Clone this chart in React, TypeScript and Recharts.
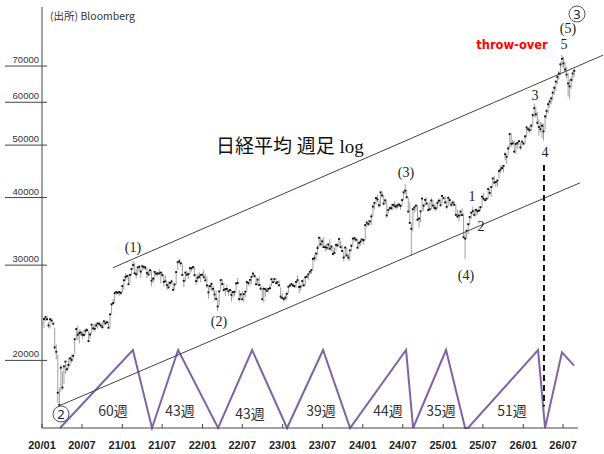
import React from "react";
import { ComposedChart, Bar, Line, XAxis, YAxis, ReferenceLine } from "recharts";

// Nikkei 225 weekly bars: [low, high, close] in thousand yen, one row per Friday
const w2020 = [
	[22.95, 23.9, 23.85], [23.65, 24.1, 24.04], [23.7, 24.2, 23.83], [22.97, 23.55, 23.21],
	[22.9, 23.9, 23.83], [23.6, 23.95, 23.69], [23.2, 23.5, 23.39], [20.9, 23.0, 21.14],
	[20.1, 21.4, 20.75], [16.69, 20.5, 17.43], [16.36, 17.8, 16.55], [17.5, 19.6, 19.39],
	[17.65, 19.1, 17.82], [18.1, 19.6, 19.5], [18.9, 19.95, 19.9], [19.1, 19.7, 19.26],
	[19.3, 20.2, 19.62], [19.5, 20.3, 20.18], [19.8, 20.5, 20.04], [20.1, 20.6, 20.39], [20.6, 22.0, 21.88],
	[21.9, 23.0, 22.86], [21.8, 23.2, 22.31], [21.5, 22.8, 22.48], [22.2, 22.8, 22.51],
	[21.9, 22.6, 22.31], [22.1, 22.75, 22.29], [22.3, 22.9, 22.7], [22.6, 22.95, 22.75], [21.6, 22.7, 21.71],
	[21.9, 22.6, 22.33], [22.4, 23.35, 23.29], [22.8, 23.3, 22.92], [22.6, 23.4, 22.88],
	[23.0, 23.5, 23.21], [22.9, 23.5, 23.41], [23.2, 23.6, 23.36], [23.0, 23.45, 23.2],
	[22.9, 23.5, 23.03], [23.1, 23.7, 23.62], [23.3, 23.7, 23.41], [23.3, 23.7, 23.52], [22.95, 23.6, 22.98],
	[23.0, 24.35, 24.33], [24.3, 25.5, 25.39], [25.3, 26.0, 25.53], [25.5, 26.7, 26.64],
	[26.4, 26.9, 26.75], [26.5, 26.9, 26.65], [26.3, 26.9, 26.76], [26.4, 26.9, 26.66],
];
const w2021 = [
	[26.7, 27.6, 27.44], [27.0, 28.2, 28.14], [28.0, 28.98, 28.52], [28.2, 28.85, 28.63], [27.6, 28.8, 27.66],
	[27.8, 28.8, 28.78], [28.7, 29.6, 29.52], [29.5, 30.47, 30.02], [28.9, 30.3, 28.97],
	[28.3, 29.5, 28.86], [28.7, 29.75, 29.72], [29.2, 30.0, 29.79], [28.4, 29.6, 29.18],
	[29.3, 30.1, 29.85], [29.4, 30.0, 29.77], [29.4, 29.9, 29.68], [28.4, 29.7, 29.02], [28.7, 29.3, 28.81],
	[28.8, 29.45, 29.36], [27.4, 29.4, 28.08], [27.8, 28.5, 28.32], [28.1, 29.2, 29.15],
	[28.6, 29.1, 28.94], [28.6, 29.1, 28.95], [28.8, 29.5, 28.96], [27.8, 29.1, 29.07],
	[28.5, 29.1, 28.78], [27.4, 28.8, 27.94], [27.9, 28.7, 28.0], [27.0, 27.9, 27.55], [27.2, 28.0, 27.28],
	[27.3, 27.95, 27.82], [27.7, 28.2, 27.98], [26.95, 27.8, 27.01], [27.0, 27.7, 27.64],
	[27.6, 29.2, 29.13], [29.4, 30.4, 30.38], [30.1, 30.8, 30.5], [29.8, 30.3, 30.25],
	[28.7, 30.2, 28.77], [27.3, 28.5, 28.05], [28.0, 29.1, 29.07], [28.6, 29.3, 28.8], [28.3, 29.0, 28.89],
	[28.9, 29.8, 29.61], [29.2, 29.7, 29.61], [29.4, 29.9, 29.75], [28.6, 29.8, 28.75],
	[27.6, 28.6, 28.03], [27.9, 28.9, 28.44], [28.3, 29.1, 28.55], [27.9, 28.8, 28.78], [28.6, 29.1, 28.79],
];
const w2022 = [
	[28.4, 29.4, 28.48], [28.0, 28.9, 28.12], [27.2, 28.6, 27.52], [26.0, 27.6, 26.72],
	[26.9, 27.6, 27.44], [26.9, 27.9, 27.7], [26.7, 27.5, 27.12], [25.8, 27.0, 26.48],
	[25.8, 26.9, 25.99], [24.68, 26.0, 25.16], [25.3, 26.9, 26.83], [26.9, 28.3, 28.15],
	[27.6, 28.3, 27.67], [26.8, 27.8, 26.99], [26.3, 27.2, 27.09], [26.8, 27.6, 27.11], [26.3, 26.95, 26.85],
	[26.6, 27.1, 27.0], [25.7, 27.0, 26.43], [26.1, 26.9, 26.74], [26.3, 26.9, 26.78],
	[26.9, 27.8, 27.76], [27.6, 28.4, 27.82], [25.7, 27.0, 25.96], [25.8, 26.6, 26.49],
	[25.9, 26.9, 25.94], [25.6, 26.6, 26.52], [26.2, 26.9, 26.79], [26.8, 28.0, 27.91], [27.5, 28.0, 27.8],
	[27.5, 28.2, 28.18], [27.7, 28.6, 28.55], [28.6, 29.2, 28.93], [28.4, 28.8, 28.64],
	[27.6, 28.5, 27.65], [27.5, 28.3, 28.21], [27.5, 28.6, 27.57], [26.9, 27.7, 27.15], [25.9, 27.2, 25.94],
	[25.6, 27.4, 27.12], [26.2, 27.1, 27.09], [26.8, 27.3, 26.89], [26.7, 27.2, 27.11],
	[27.0, 27.7, 27.2], [27.4, 28.3, 28.26], [27.8, 28.3, 27.9], [27.9, 28.4, 28.28],
	[27.7, 28.4, 27.78], [27.5, 28.0, 27.9], [27.4, 28.1, 27.53], [26.0, 27.3, 26.24], [25.95, 26.6, 26.09],
];
const w2023 = [
	[25.66, 26.1, 25.97], [25.8, 26.5, 26.12], [25.9, 26.8, 26.55], [26.6, 27.4, 27.38],
	[27.2, 27.6, 27.51], [27.4, 27.8, 27.67], [27.3, 27.8, 27.51], [27.2, 27.6, 27.45],
	[27.2, 28.0, 27.93], [27.9, 28.7, 28.14], [26.6, 28.0, 27.33], [26.9, 27.5, 27.39], [27.4, 28.1, 28.04],
	[27.4, 28.3, 27.52], [27.5, 28.5, 28.49], [28.4, 28.8, 28.56], [28.2, 28.9, 28.86],
	[28.9, 29.3, 29.16], [28.9, 29.4, 29.39], [29.4, 30.9, 30.81], [30.5, 31.35, 30.92],
	[30.6, 31.6, 31.52], [31.3, 32.7, 32.27], [32.4, 33.8, 33.71], [32.6, 33.77, 32.78], [32.3, 33.5, 33.19],
	[32.3, 33.8, 32.39], [31.8, 32.8, 32.39], [31.9, 32.9, 32.3], [32.0, 32.9, 32.76],
	[31.9, 33.5, 32.19], [31.8, 32.6, 32.47], [31.3, 32.5, 31.45], [31.5, 32.3, 31.62],
	[31.9, 32.8, 32.71], [32.4, 33.0, 32.61], [32.6, 33.6, 33.53], [32.2, 33.3, 32.4], [31.8, 32.7, 31.86],
	[30.5, 31.8, 30.99], [31.0, 32.5, 32.32], [31.2, 32.3, 31.26], [30.6, 31.5, 30.99],
	[30.6, 32.0, 31.95], [31.8, 32.8, 32.57], [32.6, 33.7, 33.59], [33.3, 33.9, 33.63],
	[33.1, 33.8, 33.43], [32.2, 33.5, 32.31], [32.4, 33.2, 32.97], [32.6, 33.6, 33.17], [33.1, 33.6, 33.46],
];
const w2024 = [
	[32.7, 33.5, 33.38], [33.4, 35.7, 35.58], [35.3, 36.0, 35.96], [35.4, 36.4, 35.75],
	[35.5, 36.3, 36.16], [35.6, 37.3, 36.9], [36.9, 38.9, 38.49], [38.0, 39.2, 39.1],
	[38.8, 40.0, 39.91], [39.2, 40.5, 39.69], [38.3, 39.5, 38.71], [38.5, 41.09, 40.89], [40.0, 41.1, 40.37],
	[38.7, 40.4, 38.99], [38.8, 39.8, 39.52], [36.73, 39.4, 37.07], [37.3, 38.1, 37.93],
	[37.8, 38.6, 38.24], [37.9, 38.9, 38.23], [37.9, 38.9, 38.79], [38.3, 39.4, 38.65], [38.0, 38.9, 38.49],
	[38.2, 39.0, 38.68], [38.4, 39.1, 38.81], [38.0, 38.9, 38.6], [38.6, 39.6, 39.58],
	[39.6, 40.9, 40.91], [40.5, 42.43, 41.19], [39.8, 41.4, 40.06], [37.6, 40.0, 37.67],
	[35.8, 39.2, 35.91], [31.16, 35.9, 35.03], [34.6, 38.2, 38.06], [37.5, 38.4, 38.36], [37.8, 38.7, 38.65],
	[36.3, 38.7, 36.39], [35.25, 36.8, 36.58], [36.0, 37.8, 37.72], [37.7, 39.8, 39.83],
	[37.8, 39.0, 38.64], [38.6, 39.8, 39.61], [38.9, 40.0, 38.98], [37.7, 39.0, 37.91],
	[37.9, 39.3, 38.05], [38.0, 39.9, 39.5], [38.5, 39.6, 38.64], [37.9, 39.0, 38.28], [37.8, 38.8, 38.21],
	[38.2, 39.5, 39.09], [39.0, 39.85, 39.47], [38.6, 39.7, 38.7], [38.8, 40.4, 40.28],
];
const w2025 = [
	[39.8, 40.1, 39.89], [38.9, 40.3, 39.19], [38.1, 39.5, 38.45], [38.5, 40.3, 39.93], [38.9, 40.0, 39.57],
	[38.4, 39.3, 38.79], [38.6, 39.5, 39.15], [38.6, 39.3, 38.78], [37.0, 38.8, 37.16],
	[36.6, 38.0, 36.89], [36.2, 37.4, 37.05], [36.9, 37.9, 37.68], [37.0, 38.2, 37.12],
	[33.7, 37.4, 33.78], [30.79, 34.6, 33.59], [33.5, 34.9, 34.73], [34.2, 35.9, 35.71],
	[35.5, 36.9, 36.83], [36.5, 37.6, 37.5], [37.2, 38.5, 37.75], [36.9, 38.0, 37.16], [36.9, 38.1, 37.97],
	[37.2, 38.0, 37.74], [37.6, 38.5, 37.83], [37.8, 38.6, 38.4], [38.3, 40.2, 40.15],
	[39.6, 40.8, 39.81], [39.3, 39.9, 39.57], [39.4, 40.0, 39.82], [39.8, 41.8, 41.46],
	[40.5, 41.5, 40.8], [40.1, 41.9, 41.82], [41.8, 43.5, 43.38], [42.5, 43.9, 42.63], [41.8, 42.9, 42.72],
	[41.9, 43.1, 43.02], [43.3, 44.8, 44.77], [44.4, 45.8, 45.05], [44.9, 45.9, 45.35],
	[44.5, 45.9, 45.77], [46.9, 48.6, 48.09], [46.2, 48.1, 47.58], [47.9, 49.9, 49.3], [49.2, 52.4, 52.41],
	[49.6, 52.6, 50.28], [49.9, 51.2, 50.38], [48.3, 51.0, 48.63], [48.1, 50.3, 50.25],
	[49.2, 50.6, 50.49], [49.9, 51.1, 50.84], [49.0, 50.5, 49.51], [49.7, 50.8, 50.75],
];
const w2026 = [
	[50.0, 50.6, 50.34], [50.2, 52.2, 51.9], [51.6, 54.2, 53.9], [52.8, 54.0, 53.5], [52.6, 54.1, 53.3],
	[53.0, 54.8, 54.3], [54.2, 57.3, 56.8], [56.3, 59.7, 58.5], [56.2, 59.0, 57.0],
	[54.5, 57.6, 55.0], [52.0, 55.8, 54.0], [52.8, 55.2, 53.5], [51.5, 55.0, 54.3],
	[51.0, 54.8, 53.0], [53.2, 56.8, 56.5], [56.0, 58.3, 57.8], [57.2, 60.0, 59.5],
	[58.6, 60.8, 60.2], [59.5, 61.5, 61.0], [60.4, 63.0, 62.5], [61.9, 64.3, 63.8], [63.0, 66.0, 65.5],
	[64.8, 67.3, 66.8], [66.0, 68.5, 67.8], [67.3, 71.2, 70.5], [69.6, 73.4, 72.2],
	[69.5, 72.8, 70.8], [68.1, 71.3, 69.0], [66.5, 69.8, 67.5], [61.5, 68.0, 65.0], [60.8, 66.0, 64.2],
	[63.5, 67.0, 66.0], [65.5, 68.5, 67.8], [66.8, 69.3, 68.6],
];
const yearBlocks = [w2020, w2021, w2022, w2023, w2024, w2025, w2026];
const firstFriday = ["2020-01-10", "2021-01-01", "2022-01-07", "2023-01-06", "2024-01-05", "2025-01-03", "2026-01-02"];

// x axis is days since 2020-01-01
const tickDates = ["2020-01-01", "2020-07-01", "2021-01-01", "2021-07-01", "2022-01-01", "2022-07-01", "2023-01-01",
	"2023-07-01", "2024-01-01", "2024-07-01", "2025-01-01", "2025-07-01", "2026-01-01", "2026-07-01"];
const tickLabels = ["20/01", "20/07", "21/01", "21/07", "22/01", "22/07", "23/01", "23/07", "24/01", "24/07", "25/01", "25/07", "26/01", "26/07"];
const yTicks = [20000, 30000, 40000, 50000, 60000, 70000];

// cycle zigzag (purple), 1 = peak, 0 = trough
const cycleDays = [82, 414, 501, 620, 802, 957, 1116, 1280, 1403, 1658, 1690, 1840, 1927, 1940, 2259, 2291, 2368, 2423];
const cycleLevel = [0, 1, 0, 1, 0, 1, 0, 1, 0, 1, 0, 1, 0, 0, 1, 0, 0.97, 0.8];
const cycleWeeks = ["60週", "43週", "43週", "39週", "44週", "35週", "51週"];
const cycleLabelX = [113, 180, 250, 321, 388, 441, 512];

// channel lines and wave-4 marker: [day, price]
const upperChannel = [[323, 29670], [2555, 73320]];
const lowerChannel = [[82, 16510], [2450, 42580]];
const wave4Marker = [[2286, 45950], [2286, 16440]];

const DAY = 86400000;
const origin = Date.parse("2020-01-01");
const toDay = (s: string) => Math.round((Date.parse(s) - origin) / DAY);
const tickDays = tickDates.map(toDay);

const bars = yearBlocks.flatMap((rows, i) => {
	const d0 = toDay(firstFriday[i]);
	return rows.map(([lo, hi, cl], k) => ({
		d: d0 + 7 * k,
		range: [lo * 1000, hi * 1000],
		lo: lo * 1000,
		hi: hi * 1000,
		close: cl * 1000,
	}));
});

const cycleData = cycleDays.map((d, i) => ({ d, c: cycleLevel[i] }));

const OhlcShape = (props: any) => {
	const { x, y, width, height, payload } = props;
	if (x == null || y == null || isNaN(y) || isNaN(height)) return null;
	const cx = x + width / 2;
	const top = Math.min(y, y + height);
	const h = Math.abs(height);
	const t = (Math.log(payload.hi) - Math.log(payload.close)) / (Math.log(payload.hi) - Math.log(payload.lo));
	const cy = top + h * t;
	return (
		<g>
			<line x1={cx} x2={cx} y1={top} y2={top + h} stroke="#a0a0a0" strokeWidth={1} />
			<rect x={cx - 1} y={cy - 0.9} width={2} height={1.8} fill="#111" />
		</g>
	);
};

const XTick = (props: any) => {
	const { x, payload } = props;
	const i = tickDays.indexOf(payload.value);
	return (
		<g>
			<line x1={x} x2={x} y1={424} y2={428} stroke="#444" />
			<text x={x} y={449} textAnchor="middle" fontSize={11} fontWeight="bold" fontFamily="'Liberation Sans', Arial, sans-serif" fill="#222">
				{tickLabels[i]}
			</text>
		</g>
	);
};

const YTick = (props: any) => {
	const { y, payload } = props;
	return (
		<g>
			<line x1={5} x2={47} y1={y} y2={y} stroke="#444" />
			<text x={39} y={y - 3} textAnchor="end" fontSize={9.5} fontFamily="'Liberation Sans', Arial, sans-serif" fill="#333">
				{payload.value}
			</text>
		</g>
	);
};

const serif = "'Liberation Serif', 'Times New Roman', serif";
const waveLabels = [
	{ t: "(1)", x: 133, y: 252 },
	{ t: "(2)", x: 219, y: 326 },
	{ t: "(3)", x: 406, y: 177 },
	{ t: "(4)", x: 466, y: 280 },
	{ t: "(5)", x: 568, y: 33 },
	{ t: "1", x: 472, y: 201 },
	{ t: "2", x: 481, y: 231 },
	{ t: "3", x: 535, y: 100 },
	{ t: "4", x: 545, y: 157 },
	{ t: "5", x: 564, y: 49 },
];

const Overlay = () => (
	<svg width={604} height={454} style={{ position: "absolute", left: 0, top: 0, pointerEvents: "none" }}>
		<text x={50} y={20} fontSize={10.5} fontFamily="'Noto Sans CJK JP', sans-serif" fill="#333">
			(出所) Bloomberg
		</text>
		<text x={216} y={153} fontSize={19} fontFamily="'Liberation Serif', 'Noto Sans CJK JP', serif" fill="#111">
			日経平均 週足 log
		</text>
		{waveLabels.map((w) => (
			<text key={w.t + w.x} x={w.x} y={w.y} textAnchor="middle" fontSize={14} fontFamily={serif} fill="#222">
				{w.t}
			</text>
		))}
		<text x={512} y={49} textAnchor="middle" fontSize={11.5} fontWeight="bold" fontFamily="'DejaVu Sans', sans-serif" fill="#ff0000">
			throw-over
		</text>
		{cycleWeeks.map((t, i) => (
			<text key={i} x={cycleLabelX[i]} y={i === 2 ? 419 : 416} textAnchor="middle" fontSize={14} fontFamily="'Noto Sans CJK JP', sans-serif" fill="#333">
				{t}
			</text>
		))}
		<circle cx={61} cy={414} r={8} fill="#fff" stroke="#555" strokeWidth={1} />
		<text x={61} y={419} textAnchor="middle" fontSize={13} fontFamily="'Noto Sans', sans-serif" fill="#222">2</text>
		<circle cx={577} cy={14} r={8} fill="#fff" stroke="#555" strokeWidth={1} />
		<text x={577} y={19} textAnchor="middle" fontSize={13} fontFamily="'Noto Sans', sans-serif" fill="#222">3</text>
	</svg>
);

const seg = (p: number[][]) => p.map(([x, y]) => ({ x, y }));

export default function App() {
	return (
		<div style={{ position: "relative", width: 604, height: 454, background: "#fff" }}>
			<style>{"body{margin:0}"}</style>
			<ComposedChart width={604} height={454} data={bars} margin={{ top: 7, right: 26, bottom: 0, left: 0 }}>
				<XAxis
					dataKey="d"
					type="number"
					domain={[0, 2441]}
					allowDataOverflow
					ticks={tickDays}
					interval={0}
					tick={XTick}
					tickLine={false}
					axisLine={{ stroke: "#444" }}
					height={26}
				/>
				<YAxis
					type="number"
					scale="log"
					domain={[15000, 90000]}
					allowDataOverflow
					ticks={yTicks}
					interval={0}
					tick={YTick}
					tickLine={false}
					axisLine={{ stroke: "#444" }}
					width={42}
				/>
				<YAxis yAxisId="cyc" hide type="number" domain={[0, 5.4]} />
				<Line
					yAxisId="cyc"
					data={cycleData}
					dataKey="c"
					type="linear"
					stroke="#8064a2"
					strokeWidth={2}
					dot={false}
					isAnimationActive={false}
				/>
				<ReferenceLine segment={seg(upperChannel)} ifOverflow="visible" stroke="#444" strokeWidth={1} />
				<ReferenceLine segment={seg(lowerChannel)} ifOverflow="visible" stroke="#444" strokeWidth={1} />
				<Bar dataKey="range" shape={OhlcShape} barSize={2} isAnimationActive={false} />
				<ReferenceLine segment={seg(wave4Marker)} ifOverflow="visible" stroke="#111" strokeWidth={2} strokeDasharray="6 4" />
			</ComposedChart>
			<Overlay />
		</div>
	);
}
